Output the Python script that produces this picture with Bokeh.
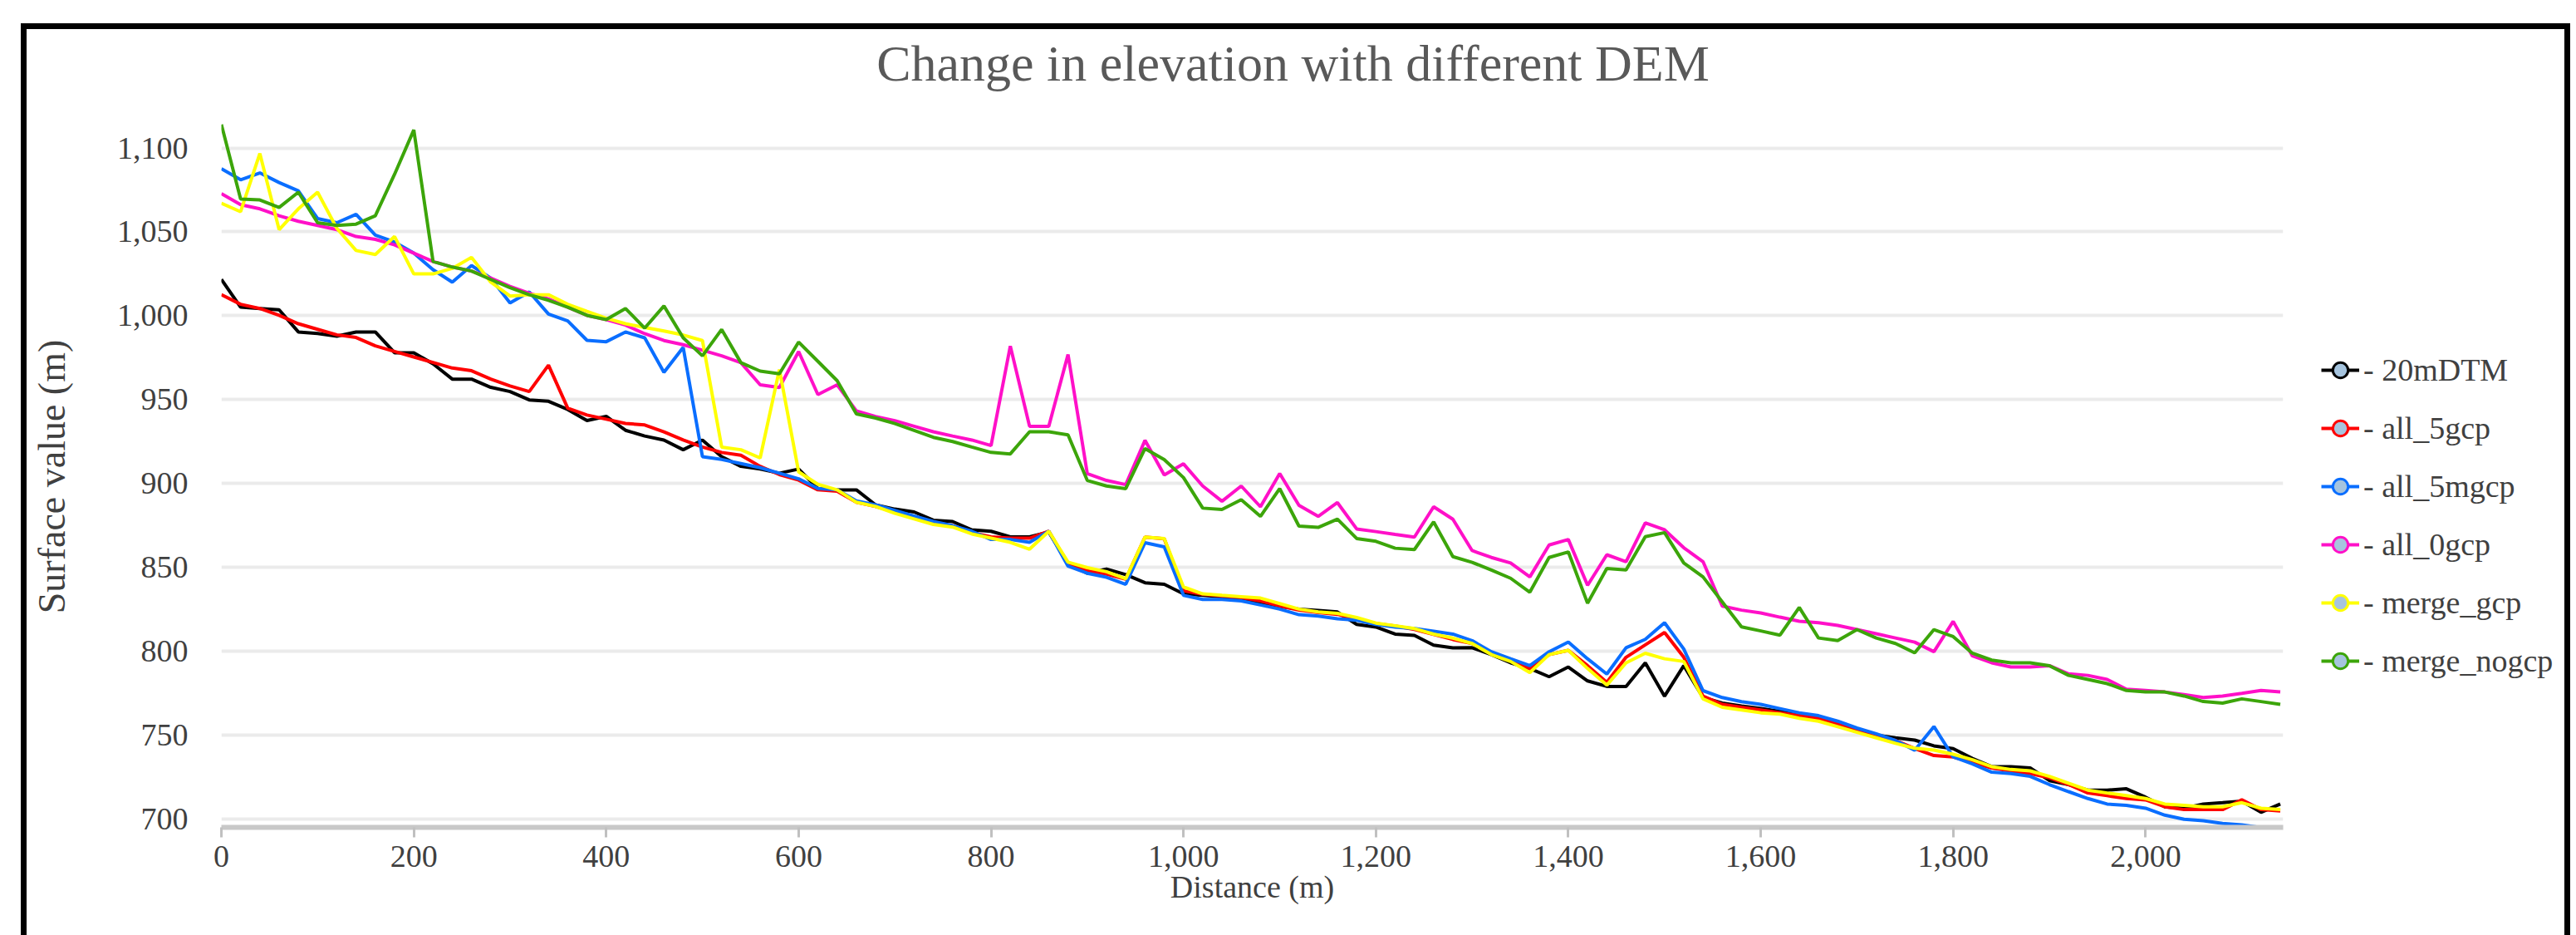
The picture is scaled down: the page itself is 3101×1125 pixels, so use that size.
from bokeh.plotting import figure
from bokeh.layouts import row
from bokeh.models import (Range1d, FixedTicker, NumeralTickFormatter, Legend,
                          LegendItem, Label, ColumnDataSource)
from bokeh.embed import file_html
from bokeh.resources import INLINE

distance = [0, 20, 40, 60, 80, 100, 120, 140, 160, 180, 200, 220, 240, 260, 280, 300,
            320, 340, 360, 380, 400, 420, 440, 460, 480, 500, 520, 540, 560, 580, 600,
            620, 640, 660, 680, 700, 720, 740, 760, 780, 800, 820, 840, 860, 880, 900,
            920, 940, 960, 980, 1000, 1020, 1040, 1060, 1080, 1100, 1120, 1140, 1160,
            1180, 1200, 1220, 1240, 1260, 1280, 1300, 1320, 1340, 1360, 1380, 1400,
            1420, 1440, 1460, 1480, 1500, 1520, 1540, 1560, 1580, 1600, 1620, 1640,
            1660, 1680, 1700, 1720, 1740, 1760, 1780, 1800, 1820, 1840, 1860, 1880,
            1900, 1920, 1940, 1960, 1980, 2000, 2020, 2040, 2060, 2080, 2100, 2120, 2140]

dtm_20m = [1021.6, 1005.1, 1004.3, 1003.5, 990.3, 989.4, 987.8, 990.3, 990.3, 977.9, 977.9, 971.3,
           962.2, 962.2, 957.3, 954.8, 949.8, 949.0, 944.1, 937.5, 940.0, 931.7,
           928.3, 925.9, 920.1, 925.9, 916.0, 910.2, 908.6, 906.1, 908.6, 897.0, 896.2, 896.2,
           887.2, 884.7, 883.0, 878.1, 877.3, 872.3, 871.5, 868.2, 868.2, 871.0,
           852.3, 846.5, 849.0, 845.7, 840.8, 839.9, 834.2, 833.3, 832.5, 830.9, 829.2, 826.7,
           825.1, 824.3, 823.4, 816.0, 814.4, 810.2, 809.4, 803.6, 802.0,
           802.1, 798.0, 793.1, 789.7, 784.8, 790.6, 782.3, 779.0, 779.0, 793.1, 773.2, 791.4,
           772.4, 769.1, 767.4, 765.8, 764.1, 761.6, 760.0, 756.7, 752.5, 750.0, 748.4,
           747.0, 743.6, 741.9, 736.1, 731.2, 731.2, 730.4, 722.9, 720.5, 717.2, 717.2, 718.0,
           713.0, 707.3, 706.4, 708.9, 709.7, 710.6, 704.0, 708.9]

all_5gcp = [1012.5, 1006.8, 1004.3, 1000.2, 995.2, 991.9, 988.6, 987.0, 982.0, 978.7, 975.4, 972.1,
            968.8, 967.2, 962.2, 958.1, 954.8, 970.5, 944.9, 940.8, 938.3, 935.8,
            934.9, 930.8, 925.9, 921.7, 918.5, 916.8, 910.2, 905.3, 902.0, 896.2, 895.4, 888.8,
            886.3, 883.0, 879.7, 876.4, 874.8, 870.7, 868.2, 867.4, 867.4, 871.5,
            852.0, 848.0, 846.0, 843.0, 868.0, 867.0, 836.0, 834.0, 833.0, 832.0, 830.0, 827.0,
            824.5, 823.0, 822.0, 819.0, 816.5, 815.0, 813.0, 810.0, 807.0,
            804.6, 798.8, 794.7, 789.7, 798.0, 800.5, 791.4, 781.5, 796.4, 803.8, 811.2, 796.4,
            773.2, 768.3, 766.6, 765.0, 763.3, 761.6, 760.0, 756.7, 752.5, 749.2, 746.8,
            742.0, 737.8, 737.0, 733.7, 730.4, 728.7, 727.1, 724.6, 720.5, 715.5, 713.9, 712.2,
            711.4, 707.3, 705.6, 705.6, 705.6, 711.4, 705.6, 704.8]

all_5mgcp = [1087.6, 1081.0, 1085.1, 1079.4, 1074.4, 1057.9, 1055.4, 1060.4, 1048.0, 1043.9, 1037.3,
             1027.4, 1020.0, 1029.9, 1022.4, 1007.6, 1014.2, 1001.0, 996.9, 985.3, 984.5, 990.3,
             986.8, 966.2, 981.1, 916.0, 914.3, 911.9, 909.4, 906.1, 902.8, 897.0, 896.2, 889.6,
             887.2, 883.9, 880.6, 877.3, 874.8, 871.5, 866.6, 866.6, 864.9, 871.5,
             850.7, 846.5, 844.1, 839.9, 864.7, 862.2, 833.3, 830.9, 830.9, 830.0, 827.6, 825.1,
             821.8, 821.0, 819.3, 818.5, 816.0, 814.4, 813.5, 811.9, 810.2,
             806.3, 799.7, 795.5, 791.4, 799.7, 805.5, 795.5, 786.4, 802.1, 807.1, 817.0, 801.3,
             776.5, 772.4, 769.9, 768.3, 765.8, 763.3, 761.6, 758.3, 754.2, 750.8, 746.8,
             741.0, 755.1, 737.0, 732.8, 727.9, 727.1, 725.4, 720.5, 716.3, 712.2, 708.9, 708.1,
             706.4, 702.3, 699.8, 699.0, 697.4, 696.5, 694.9, 694.9]

all_0gcp = [1072.8, 1066.2, 1063.7, 1059.6, 1056.3, 1053.8, 1051.3, 1047.2, 1045.5, 1042.2, 1037.3,
            1032.3, 1029.0, 1026.6, 1022.4, 1017.5, 1013.4, 1010.0, 1005.1, 1000.2, 997.7, 994.4,
            989.3, 985.2, 982.7, 979.4, 976.1, 972.0, 958.8, 957.2, 978.6, 953.0, 958.8, 943.2,
            939.9, 937.4, 934.1, 930.8, 928.3, 925.9, 922.6, 981.9, 934.1, 934.1,
            976.9, 905.9, 901.8, 899.3, 925.7, 905.1, 911.7, 898.5, 889.4, 898.5, 886.1, 905.9,
            887.0, 880.4, 888.6, 872.9, 871.3, 869.6, 868.0, 886.1, 878.7,
            860.0, 855.9, 852.6, 844.3, 863.3, 866.6, 839.3, 857.5, 853.4, 876.5, 872.4, 861.7,
            853.4, 826.9, 824.5, 822.8, 820.3, 817.9, 817.0, 815.4, 812.9, 810.4, 807.9,
            805.4, 799.7, 817.8, 797.2, 793.1, 790.6, 790.6, 791.4, 786.5, 785.6, 783.2, 777.4,
            776.6, 775.7, 774.1, 772.4, 773.3, 774.9, 776.6, 775.7]

merge_gcp = [1067.0, 1062.0, 1096.7, 1051.3, 1063.7, 1073.6, 1052.1, 1038.9, 1036.5, 1047.2, 1024.9,
             1024.9, 1028.2, 1034.8, 1020.0, 1011.7, 1012.5, 1012.5, 1006.8, 1002.6, 998.5, 995.2,
             993.0, 990.9, 988.5, 985.2, 921.7, 920.1, 915.2, 967.9, 906.9, 899.5, 896.2, 888.8,
             886.3, 882.2, 878.9, 875.6, 874.0, 869.9, 867.4, 864.9, 860.8, 871.5,
             853.1, 849.8, 847.4, 843.2, 868.0, 867.2, 838.3, 834.2, 833.3, 832.5, 831.7, 828.4,
             825.1, 823.4, 822.6, 820.1, 816.8, 815.2, 813.5, 810.2, 807.8,
             804.6, 798.0, 793.9, 787.3, 798.0, 800.5, 789.7, 779.8, 793.1, 798.8, 795.5, 793.9,
             771.6, 766.6, 765.0, 763.3, 762.5, 760.0, 758.3, 755.0, 751.7, 748.4, 745.1,
             742.2, 741.1, 738.6, 735.3, 731.2, 729.5, 728.7, 725.4, 721.3, 717.2, 715.5, 713.9,
             712.2, 708.9, 708.1, 707.3, 707.3, 709.7, 706.4, 705.6]

merge_nogcp = [1114.0, 1069.5, 1069.0, 1064.5, 1073.6, 1055.4, 1053.8, 1054.6, 1059.6, 1084.3, 1110.7,
               1032.3, 1029.0, 1026.6, 1021.6, 1016.7, 1012.5, 1009.2, 1005.1, 1000.2, 997.7, 1004.3,
               992.6, 1005.8, 986.8, 976.1, 991.8, 972.0, 967.0, 965.4, 984.3, 972.8, 961.3, 941.5,
               939.0, 935.7, 931.6, 927.5, 925.0, 921.7, 918.5, 917.6, 930.8, 930.8,
               929.0, 901.8, 898.5, 896.9, 920.8, 914.2, 903.5, 885.3, 884.5, 890.3, 880.4, 896.9,
               874.6, 873.8, 878.7, 867.2, 865.5, 861.4, 860.6, 877.1, 856.4,
               853.0, 848.4, 843.5, 835.2, 855.9, 859.2, 828.6, 849.3, 848.4, 868.3, 870.7, 852.6,
               844.3, 829.4, 814.5, 812.1, 809.6, 826.1, 807.9, 806.3, 812.9, 807.9, 804.6,
               799.0, 812.9, 808.7, 798.8, 794.7, 793.1, 793.1, 791.4, 785.6, 783.2, 780.7, 776.6,
               775.7, 775.7, 773.3, 770.0, 769.1, 771.6, 770.0, 768.3]

series_names = ["20mDTM", "all_5gcp", "all_5mgcp", "all_0gcp", "merge_gcp", "merge_nogcp"]
series_values = [dtm_20m, all_5gcp, all_5mgcp, all_0gcp, merge_gcp, merge_nogcp]
series_colors = ["#000000", "#ff0000", "#0a6eff", "#ff10c8", "#ffff00", "#3ca50a"]
y_ticks = [700, 750, 800, 850, 900, 950, 1000, 1050, 1100]
x_ticks = [0, 200, 400, 600, 800, 1000, 1200, 1400, 1600, 1800, 2000]

FONT = "Liberation Serif"
TXT = "#404040"
H = 1090


def blank(width):
    f = figure(width=width, height=H, output_backend="svg", toolbar_location=None,
               title=None, x_axis_type=None, y_axis_type=None,
               x_range=Range1d(0, 1), y_range=Range1d(0, 1), min_border=0,
               outline_line_color=None, background_fill_color="white",
               border_fill_color="white")
    f.grid.visible = False
    return f


# ---------------- y-axis title strip ----------------
ylab = blank(100)
ylab.add_layout(Label(x=30, y=422, x_units="screen", y_units="screen",
                      text="Surface value (m)", angle=90, angle_units="deg",
                      text_align="center", text_baseline="middle", text_font=FONT,
                      text_font_size="46px", text_color=TXT))

# ---------------- main chart ----------------
p = figure(width=2662, height=H, output_backend="svg", toolbar_location=None, title=None,
           x_range=Range1d(0, 2143), y_range=Range1d(695, 1170.6),
           min_border_left=134, min_border_right=46, min_border_top=0,
           min_border_bottom=H - 960, background_fill_color="white",
           border_fill_color="white", outline_line_color=None)

p.xaxis.ticker = FixedTicker(ticks=x_ticks)
p.xaxis.formatter = NumeralTickFormatter(format="0,0")
p.xaxis.axis_line_color = "#c8c8c8"
p.xaxis.axis_line_width = 6
p.xaxis.major_tick_line_color = "#c0c0c0"
p.xaxis.major_tick_line_width = 3
p.xaxis.major_tick_out = 12
p.xaxis.major_tick_in = 0
p.xaxis.minor_tick_line_color = None
p.xaxis.major_label_standoff = 10
p.xaxis.axis_label = "Distance (m)"
p.xaxis.axis_label_standoff = 0

p.yaxis.ticker = FixedTicker(ticks=y_ticks)
p.yaxis.formatter = NumeralTickFormatter(format="0,0")
p.yaxis.axis_line_color = None
p.yaxis.major_tick_line_color = None
p.yaxis.minor_tick_line_color = None
p.yaxis.major_tick_out = 0
p.yaxis.major_tick_in = 0
p.yaxis.major_label_standoff = 40

for ax in (p.xaxis, p.yaxis):
    ax.major_label_text_font = FONT
    ax.major_label_text_font_size = "38px"
    ax.major_label_text_color = TXT
p.xaxis.axis_label_text_font = FONT
p.xaxis.axis_label_text_font_style = "normal"
p.xaxis.axis_label_text_color = TXT
p.xaxis.axis_label_text_font_size = "38px"

p.xgrid.grid_line_color = None
p.ygrid.grid_line_color = "#ebebeb"
p.ygrid.grid_line_width = 4

sources = []
for vals, col in zip(series_values, series_colors):
    src = ColumnDataSource(data=dict(x=distance, y=vals))
    sources.append(src)
    p.line("x", "y", source=src, line_color=col, line_width=4)

p.add_layout(Label(x=1290, y=920, x_units="screen", y_units="screen",
                   text="Change in elevation with different DEM", text_align="center",
                   text_baseline="middle", text_font=FONT, text_font_size="62px",
                   text_color="#595959"))

# ---------------- legend strip ----------------
q = blank(293)
items = []
for name, src, col in zip(series_names, sources, series_colors):
    # legend proxies: same data, lying outside this strip's ranges, so only the key is seen
    lr = q.line("x", "y", source=src, line_color=col, line_width=4)
    mr = q.scatter("x", "y", source=src, marker="circle", size=18, fill_color="#a6c4de",
                   line_color=col, line_width=3)
    items.append(LegendItem(label="- " + name, renderers=[lr, mr]))

legend = Legend(items=items, location=(0, 175), orientation="vertical",
                glyph_width=46, glyph_height=50, spacing=20, padding=0, margin=0,
                label_standoff=5, label_text_font=FONT, label_text_font_size="38px",
                label_text_color=TXT, border_line_color=None, background_fill_alpha=0)
q.add_layout(legend)

layout = row(ylab, p, q)
layout.styles = {"position": "relative", "left": "32px", "top": "35px",
                 "outline": "7px solid black"}

open("out.html", "w").write(file_html(layout, INLINE))
